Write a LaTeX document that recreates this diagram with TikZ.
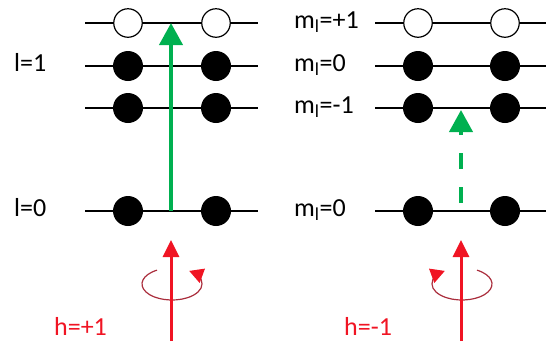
\documentclass[tikz,border=0pt]{standalone}
\usepackage{fontspec}
\setmainfont{Carlito}
\usetikzlibrary{arrows.meta}
\definecolor{pgreen}{RGB}{0,176,80}
\definecolor{pred}{RGB}{240,20,35}
\definecolor{pdred}{RGB}{170,45,60}
\begin{document}
\begin{tikzpicture}[x=1pt,y=1pt,
  levelline/.style={line width=2.2pt, black},
  fullorb/.style={circle, fill=black, minimum size=30pt, inner sep=0pt},
  emptyorb/.style={circle, draw=black, line width=1.2pt, fill=white, minimum size=28.5pt, inner sep=0pt},
  lbl/.style={anchor=base west, inner sep=0pt, font=\fontsize{26}{30}\selectfont},
  greenarrow/.style={line width=4pt, pgreen, -{Triangle[length=22pt,width=23pt]}},
  redarrow/.style={line width=3pt, pred, -{Triangle[length=17pt,width=16pt]}},
  spin/.style={line width=1.2pt, pdred, -{Triangle[length=14pt,width=15pt,color=pred]}}
]
\useasboundingbox (0,0) rectangle (546,-349);

% level lines
\foreach \y/\n in {-23/a,-66/b,-108/c,-211/d}{
  \coordinate (L\n1) at (85,\y);
  \coordinate (L\n2) at (258,\y);
  \coordinate (R\n1) at (375,\y);
  \coordinate (R\n2) at (546,\y);
  \draw[levelline] (L\n1) -- (L\n2);
  \draw[levelline] (R\n1) -- (R\n2);
}

% orbitals left
\node[emptyorb] (la1) at (128,-23) {};
\node[emptyorb] (la2) at (216,-23) {};
\node[fullorb] (lb1) at (128,-66) {};
\node[fullorb] (lb2) at (216,-66) {};
\node[fullorb] (lc1) at (128,-108) {};
\node[fullorb] (lc2) at (216,-108) {};
\node[fullorb] (ld1) at (128,-211) {};
\node[fullorb] (ld2) at (216,-211) {};
% orbitals right
\node[emptyorb] (ra1) at (418,-23) {};
\node[emptyorb] (ra2) at (505,-23) {};
\node[fullorb] (rb1) at (418,-66) {};
\node[fullorb] (rb2) at (505,-66) {};
\node[fullorb] (rc1) at (418,-108) {};
\node[fullorb] (rc2) at (505,-108) {};
\node[fullorb] (rd1) at (418,-211) {};
\node[fullorb] (rd2) at (505,-211) {};

% labels
\node[lbl] (l1) at (14,-71) {l=1};
\node[lbl] (l0) at (14,-216) {l=0};
\node[lbl] (mp1) at (294,-28) {m\textsubscript{l}=+1};
\node[lbl] (m0a) at (294,-71) {m\textsubscript{l}=0};
\node[lbl] (mm1) at (294,-113) {m\textsubscript{l}=-1};
\node[lbl] (m0b) at (294,-216) {m\textsubscript{l}=0};
\node[lbl, text=pred] (hp) at (54,-335) {h=+1};
\node[lbl, text=pred] (hm) at (344,-335) {h=-1};

% green transitions
\coordinate (gs1) at (171,-211);
\coordinate (ge1) at (171,-23);
\draw[greenarrow] (gs1) -- (ge1);
\coordinate (gs2) at (461,-203);
\coordinate (ge2) at (461,-110);
\draw[greenarrow, dash pattern=on 16pt off 18pt] (gs2) -- (ge2);

% spin circles
\coordinate (c1) at (172,-284);
\coordinate (c2) at (462,-284);
\draw[spin] ([shift={(120:30pt and 16pt)}]c1) arc[start angle=120, end angle=415, x radius=30pt, y radius=16pt];
\draw[spin] ([shift={(60:30pt and 16pt)}]c2) arc[start angle=60, end angle=-235, x radius=30pt, y radius=16pt];

% photon arrows
\coordinate (rs1) at (171,-341);
\coordinate (re1) at (171,-240);
\coordinate (rs2) at (461,-341);
\coordinate (re2) at (461,-240);
\draw[redarrow] (rs1) -- (re1);
\draw[redarrow] (rs2) -- (re2);
\end{tikzpicture}
\end{document}
